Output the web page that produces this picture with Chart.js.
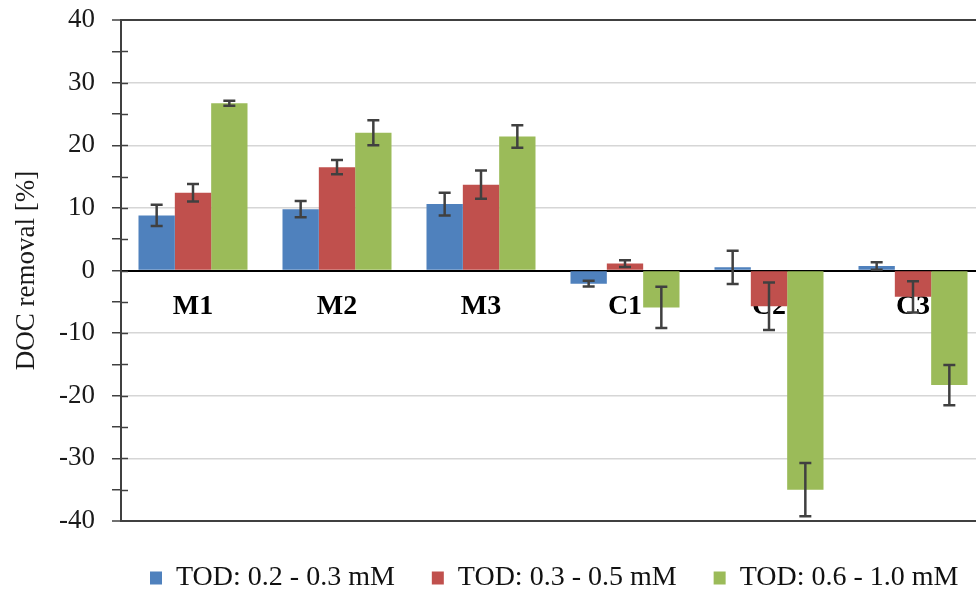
<!DOCTYPE html>
<html>
<head>
<meta charset="utf-8">
<script src="https://cdn.jsdelivr.net/npm/chart.js@4.4.1/dist/chart.umd.min.js"></script>
<style>
  html, body { margin: 0; padding: 0; background: #ffffff; overflow: hidden; }
  #wrap { width: 990px; height: 591px; }
</style>
</head>
<body>
<div id="wrap"><canvas id="chart" width="990" height="591"></canvas></div>
<script>
// Samples and DOC removal [%] per TOD dose range, with standard deviations
const categories = ['M1', 'M2', 'M3', 'C1', 'C2', 'C3'];
const seriesNames = ['TOD: 0.2 - 0.3 mM', 'TOD: 0.3 - 0.5 mM', 'TOD: 0.6 - 1.0 mM'];
const todLow = [8.8, 9.8, 10.6, -2.1, 0.5, 0.7];
const todLowErr = [1.7, 1.3, 1.8, 0.45, 2.65, 0.6];
const todMid = [12.4, 16.5, 13.7, 1.1, -5.7, -4.2];
const todMidErr = [1.4, 1.15, 2.25, 0.55, 3.8, 2.5];
const todHigh = [26.7, 22.0, 21.4, -5.9, -35.0, -18.3];
const todHighErr = [0.4, 2.0, 1.8, 3.3, 4.25, 3.2];
const yTicks = { min: -40, max: 40, major: 10, minor: 5 };

const serif = "'Liberation Serif', 'Times New Roman', serif";
const axisDark = '#404040';

// Vertical error bars with caps, placed on each bar through the y scale
const errorBars = {
  id: 'errorBars',
  afterDatasetsDraw(chart) {
    const { ctx } = chart;
    const y = chart.scales.y;
    ctx.save();
    ctx.strokeStyle = axisDark;
    ctx.lineWidth = 2.5;
    chart.data.datasets.forEach((ds, i) => {
      const meta = chart.getDatasetMeta(i);
      meta.data.forEach((bar, j) => {
        const v = ds.data[j], e = ds.errors[j];
        const x = bar.x;
        const yt = y.getPixelForValue(v + e);
        const yb = y.getPixelForValue(v - e);
        ctx.beginPath();
        ctx.moveTo(x, yt); ctx.lineTo(x, yb);
        ctx.moveTo(x - 6, yt); ctx.lineTo(x + 6, yt);
        ctx.moveTo(x - 6, yb); ctx.lineTo(x + 6, yb);
        ctx.stroke();
      });
    });
    ctx.restore();
  }
};

// Inner half of the cross-style tick marks on the value axis
const innerTicks = {
  id: 'innerTicks',
  beforeDatasetsDraw(chart) {
    const { ctx, chartArea } = chart;
    const y = chart.scales.y;
    ctx.save();
    ctx.strokeStyle = axisDark;
    ctx.lineWidth = 1.5;
    y.ticks.forEach((t, i) => {
      if (t.value === yTicks.min || t.value === yTicks.max) return;
      const py = Math.round(y.getPixelForTick(i)) + 0.5;
      ctx.beginPath();
      ctx.moveTo(chartArea.left, py);
      ctx.lineTo(chartArea.left + 7, py);
      ctx.stroke();
    });
    ctx.restore();
  }
};

// Place the legend row under the plot
const legendPlace = {
  id: 'legendPlace',
  afterLayout(chart) {
    const lg = chart.legend;
    const pad = lg.options.labels.padding;
    const w = lg.right - lg.left;
    const h = lg.bottom - lg.top;
    lg.left = 150 - pad; lg.right = lg.left + w;
    lg.top = 564 - pad; lg.bottom = lg.top + h;
  }
};

new Chart(document.getElementById('chart'), {
  type: 'bar',
  data: {
    labels: categories,
    datasets: [
      { label: seriesNames[0], data: todLow, errors: todLowErr, backgroundColor: '#4F81BD' },
      { label: seriesNames[1], data: todMid, errors: todMidErr, backgroundColor: '#C0504D' },
      { label: seriesNames[2], data: todHigh, errors: todHighErr, backgroundColor: '#9BBB59' }
    ]
  },
  options: {
    responsive: false,
    animation: false,
    events: [],
    datasets: { bar: { barPercentage: 1, categoryPercentage: 0.757, borderWidth: 0 } },
    layout: { padding: { top: 20, right: 5, bottom: 0, left: 0 } },
    plugins: {
      tooltip: { enabled: false },
      legend: {
        position: 'bottom',
        align: 'start',
        maxHeight: 70,
        labels: {
          boxWidth: 12,
          boxHeight: 13,
          padding: 37,
          color: '#111111',
          font: { family: serif, size: 28 }
        }
      }
    },
    scales: {
      x: {
        type: 'category',
        position: { y: 0 },
        z: 1,
        afterFit(scale) { scale.paddingTop = 0; scale.paddingBottom = 0; },
        grid: { display: false, drawTicks: false },
        border: { display: true, color: '#000000', width: 2 },
        ticks: {
          color: '#000000',
          padding: 19,
          maxRotation: 0,
          autoSkip: false,
          font: { family: serif, size: 28, weight: 'bold' }
        }
      },
      y: {
        min: yTicks.min,
        max: yTicks.max,
        afterFit(scale) {
          scale.width = 121;
          scale.paddingTop = 0;
          scale.paddingBottom = 0;
        },
        border: { display: true, color: axisDark, width: 2 },
        grid: {
          color(ctx) {
            const v = ctx.tick ? ctx.tick.value : 0;
            if (v === yTicks.min || v === yTicks.max) return axisDark;
            if (v !== 0 && v % yTicks.major === 0) return '#d6d6d6';
            return 'rgba(0,0,0,0)';
          },
          lineWidth(ctx) {
            const v = ctx.tick ? ctx.tick.value : 0;
            return (v === yTicks.min || v === yTicks.max) ? 2 : 1.5;
          },
          tickColor: axisDark,
          tickLength: 9,
          tickWidth: 1.5
        },
        ticks: {
          stepSize: yTicks.minor,
          autoSkip: false,
          padding: 17,
          color: '#1a1a1a',
          font: { family: serif, size: 27 },
          callback(value) { return value % yTicks.major === 0 ? String(value) : ''; }
        },
        title: {
          display: true,
          text: 'DOC removal [%]',
          color: '#1a1a1a',
          padding: { top: 11, bottom: 0 },
          font: { family: serif, size: 27 }
        }
      }
    }
  },
  plugins: [errorBars, innerTicks, legendPlace]
});
</script>
</body>
</html>
